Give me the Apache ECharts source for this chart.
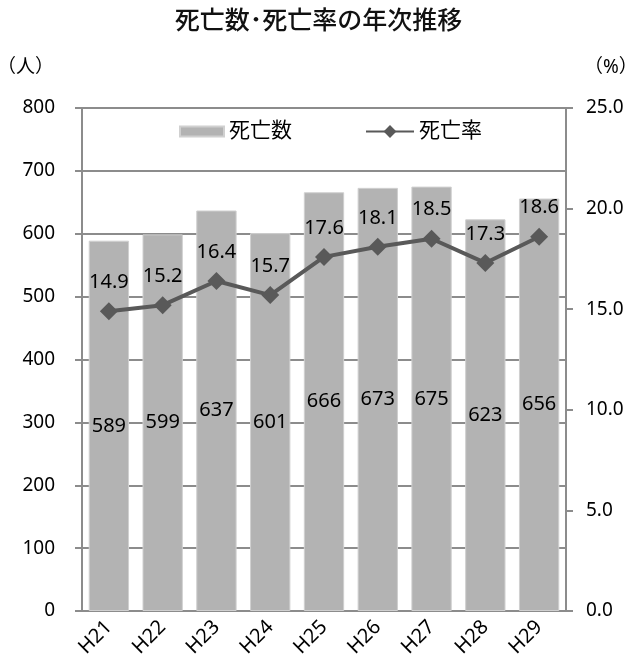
<!DOCTYPE html>
<html>
<head>
<meta charset="utf-8">
<script src="https://cdn.jsdelivr.net/npm/echarts@6/dist/echarts.min.js"></script>
<style>
  html, body { margin: 0; padding: 0; background: #fff; }
  #chart { width: 637px; height: 661px; }
</style>
</head>
<body>
<div id="chart"></div>
<script>
const years = ['H21', 'H22', 'H23', 'H24', 'H25', 'H26', 'H27', 'H28', 'H29']
const deaths = [589, 599, 637, 601, 666, 673, 675, 623, 656]
const deathRate = [14.9, 15.2, 16.4, 15.7, 17.6, 18.1, 18.5, 17.3, 18.6]

const font = '"Noto Sans", "Noto Sans CJK JP", sans-serif'
const axisGray = '#8c8c8c'

const chart = echarts.init(document.getElementById('chart'))
chart.setOption({
  animation: false,
  textStyle: { fontFamily: font, color: '#000' },
  title: {
    text: '死亡数･死亡率の年次推移',
    left: 'center',
    top: 4,
    textStyle: { fontSize: 25, fontWeight: 500, color: '#111', fontFamily: font }
  },
  legend: [
    {
      top: 116,
      left: 174,
      itemWidth: 44,
      itemHeight: 10,
      textStyle: { fontSize: 21, color: '#000', fontFamily: font },
      data: [{ name: '死亡数', icon: 'rect' }]
    },
    {
      top: 116,
      left: 360,
      itemWidth: 48,
      itemHeight: 16,
      itemGap: 2,
      textStyle: { fontSize: 21, color: '#000', fontFamily: font },
      data: [{ name: '死亡率' }]
    }
  ],
  grid: { left: 82, right: 71, top: 108, bottom: 50, outerBoundsMode: 'none', containLabel: false },
  xAxis: {
    type: 'category',
    data: years,
    axisLine: { lineStyle: { color: axisGray, width: 2 } },
    axisTick: { inside: true, length: 6, lineStyle: { color: axisGray, width: 2 } },
    axisLabel: { rotate: 45, fontSize: 20, color: '#000', margin: 13 }
  },
  yAxis: [
    {
      type: 'value',
      min: 0, max: 800, interval: 100,
      name: '（人）',
      nameLocation: 'end',
      nameGap: 31,
      nameTextStyle: { fontSize: 19, color: '#000', align: 'right', padding: [0, 28, 0, 0] },
      axisLine: { show: true, lineStyle: { color: axisGray, width: 2 } },
      axisTick: { show: true, length: 7, lineStyle: { color: axisGray, width: 2 } },
      axisLabel: { fontSize: 19, color: '#000', margin: 27 },
      splitLine: { show: true, lineStyle: { color: axisGray, width: 2 } }
    },
    {
      type: 'value',
      min: 0, max: 25, interval: 5,
      name: '（%）',
      nameLocation: 'end',
      nameGap: 31,
      nameTextStyle: { fontSize: 19, color: '#000', align: 'left', padding: [0, 0, 0, 18] },
      axisLine: { show: true, lineStyle: { color: axisGray, width: 2 } },
      axisTick: { show: true, length: 7, lineStyle: { color: axisGray, width: 2 } },
      axisLabel: { fontSize: 19, color: '#000', margin: 20, formatter: v => v.toFixed(1) },
      splitLine: { show: false }
    }
  ],
  series: [
    {
      name: '死亡数',
      type: 'bar',
      data: deaths,
      yAxisIndex: 0,
      barCategoryGap: '25%',
      itemStyle: { color: '#b3b3b3', borderColor: '#d0d0d0', borderWidth: 1 },
      label: { show: true, position: 'inside', fontSize: 20, color: '#000' }
    },
    {
      name: '死亡率',
      type: 'line',
      data: deathRate,
      yAxisIndex: 1,
      symbol: 'diamond',
      symbolSize: 18,
      lineStyle: { color: '#595959', width: 4 },
      itemStyle: { color: '#595959' },
      label: { show: true, position: 'top', distance: 10, fontSize: 20, color: '#000', formatter: p => p.value.toFixed(1) }
    }
  ]
})
</script>
</body>
</html>
